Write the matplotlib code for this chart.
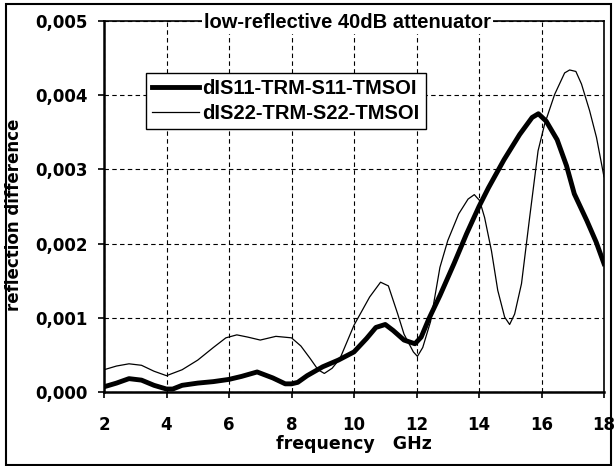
import numpy as np
import matplotlib
matplotlib.use("Agg")
import matplotlib.pyplot as plt
import matplotlib.transforms as mtransforms
from matplotlib.ticker import FuncFormatter, MultipleLocator
from matplotlib.patches import Rectangle

# datos
freq_s11 = [2.0, 2.4, 2.8, 3.2, 3.6, 4.0, 4.2, 4.5, 5.0, 5.5, 6.0, 6.4, 6.9, 7.4, 7.8,
            8.0, 8.2, 8.5, 9.0, 9.5, 10.0, 10.4, 10.7, 11.0, 11.25, 11.6, 11.95, 12.15,
            12.4, 12.75, 13.2, 13.6, 14.0, 14.3, 14.8, 15.3, 15.7, 15.9, 16.15, 16.5,
            16.8, 17.05, 17.45, 17.75, 18.0]
s11 = [0.00007, 0.00012, 0.00018, 0.00016, 0.00009, 0.00004, 0.00004, 0.00009, 0.00012,
       0.00014, 0.00017, 0.00021, 0.00027, 0.00019, 0.00011, 0.00011, 0.00013, 0.00022,
       0.00034, 0.00043, 0.00054, 0.00072, 0.00087, 0.00091, 0.00083, 0.00070, 0.00065,
       0.00074, 0.00099, 0.00130, 0.00173, 0.00213, 0.00250, 0.00275, 0.00313, 0.00347,
       0.00370, 0.00375, 0.00365, 0.00340, 0.00305, 0.00267, 0.00231, 0.00202, 0.00173]

freq_s22 = [2.0, 2.4, 2.8, 3.2, 3.6, 4.0, 4.5, 5.0, 5.5, 5.9, 6.25, 6.6, 7.0, 7.5, 8.0,
            8.3, 8.6, 8.85, 9.05, 9.3, 9.55, 10.0, 10.5, 10.85, 11.1, 11.4, 11.6, 11.9,
            12.03, 12.2, 12.45, 12.75, 13.0, 13.35, 13.65, 13.85, 14.02, 14.18, 14.4,
            14.6, 14.82, 14.98, 15.14, 15.36, 15.62, 15.89, 16.1, 16.42, 16.74, 16.9,
            17.1, 17.28, 17.54, 17.76, 18.0]
s22 = [0.00030, 0.00035, 0.00038, 0.00036, 0.00028, 0.00022, 0.00030, 0.00043, 0.00060,
       0.00073, 0.00077, 0.00074, 0.00070, 0.00075, 0.00073, 0.00062, 0.00045, 0.00030,
       0.00025, 0.00032, 0.00045, 0.00090, 0.00128, 0.00148, 0.00143, 0.00105, 0.00078,
       0.00054, 0.00048, 0.00060, 0.00095, 0.00168, 0.00204, 0.00240, 0.00260, 0.00266,
       0.00258, 0.00235, 0.00190, 0.00137, 0.00101, 0.00091, 0.00105, 0.00146, 0.00235,
       0.00325, 0.00361, 0.00401, 0.00430, 0.00434, 0.00432, 0.00415, 0.00379, 0.00343,
       0.00290]

label_s11 = "dIS11-TRM-S11-TMSOI"
label_s22 = "dIS22-TRM-S22-TMSOI"
titulo = "low-reflective 40dB attenuator"

plt.rcParams['font.family'] = ['DejaVu Sans']
plt.rcParams['font.weight'] = 'bold'
fuente_arial = ['Liberation Sans', 'DejaVu Sans']

fig = plt.figure(figsize=(6.14, 4.66), dpi=100)
ax = fig.add_axes([104 / 614, 1 - 392 / 466, 500 / 614, 371 / 466])

ax.plot(freq_s11, s11, color='black', linewidth=3.5, label=label_s11, zorder=3)
ax.plot(freq_s22, s22, color='black', linewidth=0.9, label=label_s22, zorder=3)

ax.set_xlim(2, 18)
ax.set_ylim(0, 0.005)
ax.xaxis.set_major_locator(MultipleLocator(2))
ax.yaxis.set_major_locator(MultipleLocator(0.001))
ax.yaxis.set_major_formatter(FuncFormatter(lambda v, p: ("%.3f" % v).replace(".", ",")))
ax.grid(True, color='black', linestyle=(0, (4, 3)), linewidth=0.8)
ax.tick_params(direction='out', length=4, width=1.2, labelsize=12)
ax.tick_params(axis='x', pad=13)
ax.tick_params(axis='y', pad=8)
for lab in ax.get_xticklabels() + ax.get_yticklabels():
    lab.set_fontweight('bold')
for s in ax.spines.values():
    s.set_linewidth(1.2)
ax.spines['left'].set_linewidth(1.8)
ax.spines['bottom'].set_linewidth(1.8)

ax.set_xlabel("frequency   GHz", fontsize=12.5, fontweight='bold', labelpad=1)
ax.set_ylabel("reflection difference", fontsize=12, fontweight='bold')
ax.yaxis.set_label_coords(-0.162, 0.477)

# titulo sobre el borde superior con fondo blanco
trans_titulo = mtransforms.offset_copy(ax.transAxes, fig=fig, x=0, y=-7.3, units='dots')
ax.text(0.487, 1.0, titulo, transform=trans_titulo, ha='center', va='baseline',
        fontsize=14.5, fontweight='bold', family=fuente_arial, zorder=5,
        bbox=dict(facecolor='white', edgecolor='none', pad=1.5))

leg = ax.legend(loc='upper left', bbox_to_anchor=(0.084, 0.86), borderaxespad=0,
                prop={'family': fuente_arial, 'size': 14.5, 'weight': 'bold'},
                handlelength=2.35, handletextpad=0.15, fancybox=False,
                framealpha=1, edgecolor='black', borderpad=0.3, labelspacing=0.3)
leg.get_frame().set_linewidth(1.0)

# marco exterior
fig.patches.append(Rectangle((6 / 614, 1 / 466), 605 / 614, 461 / 466, transform=fig.transFigure,
                             fill=False, edgecolor='black', linewidth=1.5))

fig.savefig("out.png", dpi=100)
